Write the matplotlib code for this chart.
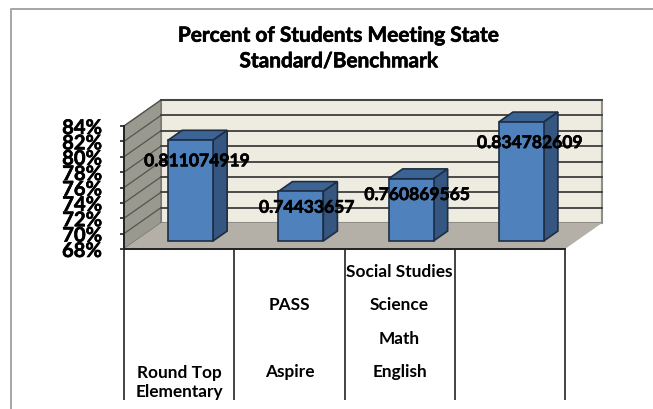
import matplotlib
matplotlib.use("Agg")
import matplotlib.pyplot as plt
import matplotlib.patheffects as pe
from matplotlib.lines import Line2D
from matplotlib.patches import Polygon

W, H = 653, 409

TITLE = "Percent of Students Meeting State\nStandard/Benchmark"
VALUES = [0.811074919, 0.74433657, 0.760869565, 0.834782609]
Y_TICKS = [68, 70, 72, 74, 76, 78, 80, 82, 84]
# category labels per column, from the bottom level up ("" = empty cell)
LEVEL_LABELS = [
    ["Round Top\nElementary"],
    ["Aspire", "", "PASS"],
    ["English", "Math", "Science", "Social Studies"],
    [],
]

FRONT = "#4F81BD"
TOP = "#3B6394"
SIDE = "#345680"
EDGE = "#1E2D42"
WALL = "#EEECE1"
FLOOR = "#B4B0A8"
LEFT_WALL = "#999990"
GRID = "#3E3E3E"

# depth of the 3D box, in data units (categories / percent points)
DX = 37 / 110.25
DY = 26 / (123 / 16)
BAR_WIDTH = 0.408
BAR_D0 = 0.31
BAR_D1 = 0.69

plt.rcParams["font.family"] = ["Lato", "DejaVu Sans"]
plt.rcParams["font.weight"] = "bold"

# Lato bold comes out a bit lighter than the reference text
HEAVY = [pe.withStroke(linewidth=0.45, foreground="black")]

fig = plt.figure(figsize=(W / 100, H / 100), dpi=100)
ax = fig.add_axes([124 / W, 1 - 249 / H, (565 - 124) / W, (249 - 126) / H])
ax.set_xlim(0, 4)
ax.set_ylim(68, 84)
ax.patch.set_visible(False)


def poly(pts, fc, ec="none", lw=0.0, z=1):
    ax.add_patch(Polygon(pts, closed=True, fc=fc, ec=ec, lw=lw, zorder=z, clip_on=False))


# walls and floor
ymin, ymax = Y_TICKS[0], Y_TICKS[-1]
poly([(DX, ymin + DY), (4 + DX, ymin + DY), (4 + DX, ymax + DY), (DX, ymax + DY)], WALL, "#8E8E86", 1.5)
poly([(0, ymin), (DX, ymin + DY), (DX, ymax + DY), (0, ymax)], LEFT_WALL, "#77776F", 1.0)
poly([(0, ymin), (4, ymin), (4 + DX, ymin + DY), (DX, ymin + DY)], FLOOR, z=2)

for t in Y_TICKS[1:]:
    ax.plot([0, DX], [t, t + DY], color="#55554F", lw=0.9, zorder=1.5, clip_on=False)
    ax.plot([DX, 4 + DX], [t + DY, t + DY], color=GRID, lw=1.3, zorder=1.5, clip_on=False)

# bars
for i, v in enumerate(VALUES):
    pct = v * 100
    x0 = i + 0.5 - BAR_WIDTH / 2 + DX * BAR_D0
    x1 = x0 + BAR_WIDTH
    y0 = ymin + DY * BAR_D0
    y1 = pct + DY * BAR_D0
    ddx = DX * (BAR_D1 - BAR_D0)
    ddy = DY * (BAR_D1 - BAR_D0)
    poly([(x0, y1), (x1, y1), (x1 + ddx, y1 + ddy), (x0 + ddx, y1 + ddy)], TOP, EDGE, 1.2, 3)
    poly([(x1, y0), (x1 + ddx, y0 + ddy), (x1 + ddx, y1 + ddy), (x1, y1)], SIDE, EDGE, 1.2, 3)
    poly([(x0, y0), (x1, y0), (x1, y1), (x0, y1)], FRONT, EDGE, 1.2, 3)
    ax.annotate(str(v), xy=((x0 + x1) / 2, y1), xytext=(6 if i == 3 else 4.5, -15.2 if i in (0, 3) else -11.7),
                textcoords="offset points", ha="center", va="center",
                fontsize=12.6, color="black", zorder=5, annotation_clip=False, path_effects=HEAVY)

# axes
for s in ("top", "right"):
    ax.spines[s].set_visible(False)
for s in ("left", "bottom"):
    ax.spines[s].set_color("#222222")
    ax.spines[s].set_linewidth(1.4)
    ax.spines[s].set_zorder(4)

ax.set_yticks(Y_TICKS)
ax.set_yticklabels([f"{t}%" for t in Y_TICKS], fontsize=14.5, path_effects=HEAVY)
ax.tick_params(axis="y", length=3, width=1.2, color="#222222", pad=13)
ax.set_xticks(range(5))
ax.set_xticklabels([])
ax.tick_params(axis="x", length=109, width=1.2, color="#222222")

# multi-level category labels, 33 px apart
for i, labels in enumerate(LEVEL_LABELS):
    for j, lab in enumerate(labels):
        py = 123 - j * 33.3
        if "\n" in lab:
            py += 10.5
        ax.annotate(lab, xy=(i + 0.5, 0), xycoords=("data", "axes fraction"), xytext=(0, -py * 0.72),
                    textcoords="offset points", ha="center", va="center", fontsize=12.4,
                    linespacing=1.22, annotation_clip=False)

fig.text(339 / W, 1 - 48.5 / H, TITLE, ha="center", va="center", fontsize=15, linespacing=1.35,
         color="black", path_effects=HEAVY)

# outer chart border, cut off on the right and at the bottom
fig.add_artist(Line2D([10.5 / W, 10.5 / W, 1], [0, 1 - 9 / H, 1 - 9 / H], color="#A6A6A6", lw=1.4))

fig.savefig("out.png", dpi=100)
plt.close(fig)
